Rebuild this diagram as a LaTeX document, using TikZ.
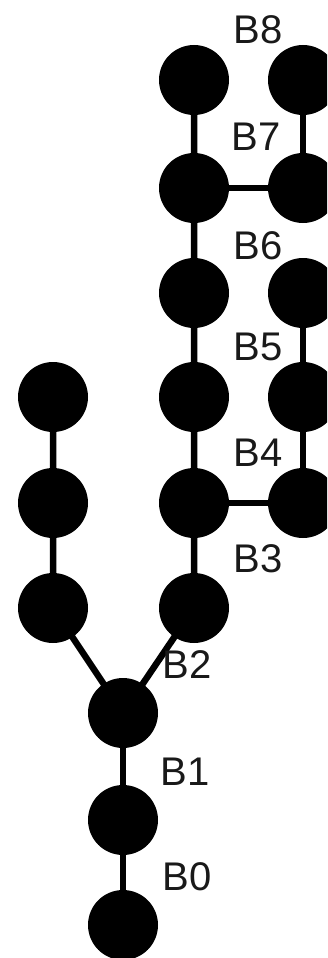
\documentclass[tikz,border=0pt]{standalone}
\usepackage{fontspec}
\setmainfont{Liberation Sans}
\begin{document}
\begin{tikzpicture}[x=1pt,y=-1pt,
  dot/.style={circle,fill=black,draw=none,minimum size=70pt,inner sep=0pt},
  edge/.style={line width=6.5pt,black},
  lbl/.style={font=\fontsize{40}{46}\selectfont,inner sep=0pt,text=black!90}]
\useasboundingbox (0,0) rectangle (327,958);
\clip (0,0) rectangle (327,958);
% bottom chain
\coordinate (p0) at (123,925);
\coordinate (p1) at (123,820);
\coordinate (p2) at (123,713);
% left branch
\coordinate (l1) at (53,608);
\coordinate (l2) at (53,503);
\coordinate (l3) at (53,397);
% middle column
\coordinate (m1) at (194,608);
\coordinate (m2) at (194,503);
\coordinate (m3) at (194,397);
\coordinate (m4) at (194,293);
\coordinate (m5) at (194,188);
\coordinate (m6) at (194,80);
% right column
\coordinate (r2) at (303,503);
\coordinate (r3) at (303,397);
\coordinate (r4) at (303,293);
\coordinate (r5) at (303,188);
\coordinate (r6) at (303,80);
% edges
\draw[edge] (p0) -- (p1) -- (p2);
\draw[edge] (p2) -- (l1) -- (l2) -- (l3);
\draw[edge] (p2) -- (m1) -- (m2) -- (m3) -- (m4) -- (m5) -- (m6);
\draw[edge] (m2) -- (r2) -- (r3) -- (r4);
\draw[edge] (m5) -- (r5) -- (r6);
% dots
\foreach \n in {p0,p1,p2,l1,l2,l3,m1,m2,m3,m4,m5,m6,r2,r3,r4,r5,r6}
  \node[dot] (d\n) at (\n) {};
% labels
\node[lbl] (b8) at (258,30) {B8};
\node[lbl] (b7) at (256,137) {B7};
\node[lbl] (b6) at (258,246) {B6};
\node[lbl] (b5) at (258,347) {B5};
\node[lbl] (b4) at (258,453) {B4};
\node[lbl] (b3) at (258,559) {B3};
\node[lbl] (b2) at (187,665) {B2};
\node[lbl] (b1) at (185,772) {B1};
\node[lbl] (b0) at (187,877) {B0};
\end{tikzpicture}
\end{document}
